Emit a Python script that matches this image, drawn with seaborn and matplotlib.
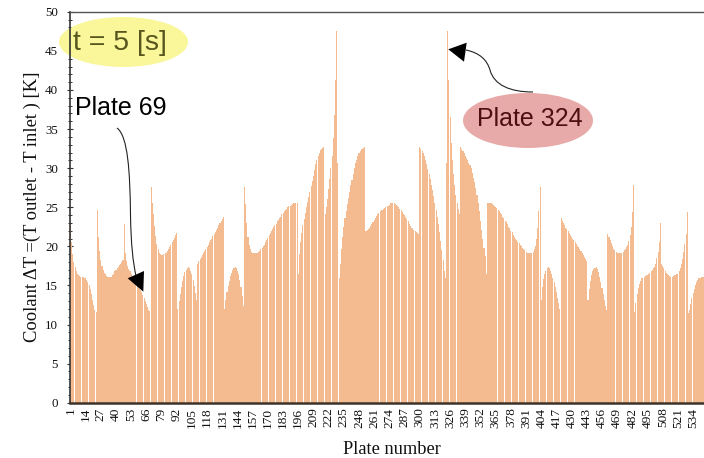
import numpy as np
import pandas as pd
import matplotlib
matplotlib.use("Agg")
import matplotlib.pyplot as plt
import matplotlib.transforms as mtransforms
from matplotlib.patches import Ellipse, PathPatch, Polygon
from matplotlib.path import Path
from matplotlib.ticker import MultipleLocator
import seaborn as sns

# ---- data: coolant delta T per plate ----
seg_a = [22.9, 20.5, 19.0, 18.0, 17.3, 16.8, 16.5, 16.3, 16.2, 16.1, 16.1, 16.1,
         16.0, 15.9, 15.7, 15.4, 15.0, 14.5, 13.9, 13.2, 12.5, 11.9, 11.6]
seg_b = [24.6, 21.2, 19.4, 18.2, 17.5, 17.0, 16.6, 16.4, 16.2, 16.1, 16.1, 16.1,
         16.1, 16.3, 16.5, 16.8, 17.0, 17.2, 17.4, 17.6, 17.8, 18.0, 18.2]
seg_c = [22.9, 19.1, 18.1, 17.5, 17.1, 16.8, 16.5, 16.2, 16.0, 15.7, 15.4, 15.1,
         14.8, 14.6, 14.4, 14.1, 13.8, 13.4, 13.0, 12.6, 12.2, 11.9, 11.7]
seg_d = [27.6, 25.5, 24.2, 22.6, 21.3, 20.3, 19.6, 19.2, 19.0, 18.9, 18.9, 19.0,
         19.1, 19.2, 19.4, 19.6, 19.9, 20.2, 20.5, 20.8, 21.1, 21.5, 21.7]
seg_e = [12.0, 13.0, 13.9, 14.8, 15.6, 16.2, 16.7, 17.0, 17.2, 17.3, 17.2, 16.9,
         16.4, 15.7, 14.9, 14.0, 13.1]
seg_f = [17.8, 18.1, 18.4, 18.6, 18.9, 19.2, 19.4, 19.7, 19.9, 20.2, 20.5, 20.8,
         21.0, 21.3, 21.6, 21.8, 22.1, 22.4, 22.7, 23.0, 23.3, 23.5, 23.8]
seg_g = [12.0, 13.1, 14.1, 14.9, 15.6, 16.2, 16.6, 17.0, 17.2, 17.3, 17.2, 16.9,
         16.4, 15.7, 14.8, 13.7, 12.4]
seg_h = [27.6, 25.4, 23.0, 21.2, 20.2, 19.6, 19.3, 19.2, 19.1, 19.1,
         19.1, 19.2, 19.3, 19.4, 19.6, 19.8, 20.0, 20.2, 20.5, 20.8,
         21.1, 21.4, 21.7, 22.0, 22.2, 22.5, 22.7, 22.9, 23.2, 23.4,
         23.6, 23.8, 24.1, 24.3, 24.5, 24.7, 24.8, 25.0, 25.1, 25.2,
         25.3, 25.4, 25.5, 25.5, 25.6, 25.6]
seg_i = [16.5, 19.0, 20.5, 21.7, 22.7, 23.5, 24.3, 25.0, 25.7, 26.3,
         27.0, 27.7, 28.3, 29.0, 29.8, 30.5, 31.1, 31.6, 32.0, 32.3,
         32.5, 32.6, 32.7]
seg_j = [24.2, 25.0, 26.1, 27.3, 28.6, 30.0, 31.5, 33.8, 36.8, 41.3, 47.6, 30.6, 16.0]
seg_k = [17.8, 19.6, 21.2, 22.5, 23.6, 24.5, 25.4, 26.2, 27.0, 27.8,
         28.5, 29.3, 30.0, 30.6, 31.1, 31.6, 32.0, 32.2, 32.4, 32.5,
         32.6, 32.7]
seg_l = [22.0, 22.1, 22.2, 22.4, 22.6, 22.9, 23.1, 23.4, 23.6, 23.9,
         24.1, 24.3, 24.5, 24.6, 24.7, 24.8, 24.9, 25.0, 25.1, 25.2,
         25.3, 25.5, 25.6, 25.6, 25.5, 25.4, 25.3, 25.1, 25.0, 24.8,
         24.6, 24.4, 24.2, 24.0, 23.8, 23.5, 23.2, 22.9, 22.6, 22.4,
         22.3, 22.1, 22.0, 21.8, 21.7, 21.6]
seg_m = [32.7, 32.5, 32.2, 31.9, 31.5, 31.0, 30.5, 29.9, 29.3, 28.6,
         27.9, 27.2, 26.4, 25.6, 24.7, 23.8, 22.8, 21.8, 20.7, 19.5,
         18.2, 16.8, 15.9]
seg_n = [30.6, 47.5, 41.3, 36.5, 33.2, 31.0, 29.2, 27.8, 26.6, 25.6, 24.8, 24.2]
seg_o = [32.7, 32.5, 32.2, 31.9, 31.6, 31.3, 31.0, 30.7, 30.4, 30.0,
         29.4, 28.8, 28.2, 27.5, 26.6, 25.6, 24.5, 23.3, 22.1, 20.9,
         19.8, 18.8, 16.5]
seg_p = [25.6, 25.6, 25.5, 25.5, 25.4, 25.3, 25.2, 25.0, 24.9, 24.7,
         24.5, 24.3, 24.1, 23.8, 23.6, 23.3, 23.1, 22.8, 22.5, 22.3,
         22.0, 21.8, 21.5, 21.2, 21.0, 20.8, 20.6, 20.4, 20.2, 20.0,
         19.8, 19.6, 19.5, 19.3, 19.2, 19.1, 19.1, 19.1, 19.2, 19.3,
         19.6, 20.1, 20.9, 22.3, 24.5, 27.6]
seg_q = [13.1, 14.8, 15.8, 16.5, 16.9, 17.2, 17.3, 17.2, 16.9, 16.5, 16.0, 15.4,
         14.8, 14.1, 13.4, 12.7, 12.0]
seg_r = [23.6, 23.3, 23.0, 22.7, 22.4, 22.2, 21.9, 21.7, 21.4, 21.2,
         21.0, 20.8, 20.5, 20.3, 20.1, 19.9, 19.6, 19.4, 19.1, 18.9,
         18.6, 18.4, 18.1]
seg_s = [13.1, 14.6, 15.6, 16.3, 16.8, 17.1, 17.2, 17.3, 17.1, 16.7, 16.1, 15.4,
         14.7, 13.9, 13.1, 12.4, 11.9]
seg_t = [21.6, 21.2, 20.8, 20.4, 20.0, 19.7, 19.5, 19.3, 19.2, 19.1,
         19.1, 19.1, 19.2, 19.3, 19.5, 19.7, 19.9, 20.2, 20.7, 21.4,
         22.5, 24.4, 27.8]
seg_u = [11.6, 12.8, 13.9, 14.7, 15.2, 15.6, 15.9, 16.0, 16.1, 16.2,
         16.3, 16.3, 16.4, 16.6, 16.8, 17.0, 17.2, 17.4, 17.8, 18.5,
         19.3, 20.5, 23.0]
seg_v = [17.8, 17.5, 17.2, 16.9, 16.6, 16.4, 16.3, 16.2, 16.1, 16.1,
         16.2, 16.3, 16.3, 16.4, 16.5, 16.8, 17.2, 17.7, 18.4, 19.3,
         20.3, 21.6, 24.4]
seg_w = [11.5, 11.9, 12.6, 13.4, 14.0, 14.6, 15.0, 15.4, 15.7, 15.9, 16.0, 16.1,
         16.1, 16.1]

delta_t = (seg_a + seg_b + seg_c + seg_d + seg_e + seg_f + seg_g + seg_h + seg_i
           + seg_j + seg_k + seg_l + seg_m + seg_n + seg_o + seg_p + seg_q + seg_r
           + seg_s + seg_t + seg_u + seg_v + seg_w)
plates = list(range(1, len(delta_t) + 1))
tick_plates = list(range(1, 535, 13))
tick_labels = [str(t) for t in tick_plates]
y_ticks = list(range(0, 51, 5))

x_label = "Plate number"
y_label = "Coolant \u0394T =(T outlet - T inlet ) [K]"
time_label = "t = 5 [s]"
note_a = "Plate 69"
note_b = "Plate 324"

# ---- style ----
sns.set_style("ticks")
plt.rcParams["font.family"] = ["Liberation Serif", "DejaVu Serif"]

bar_color = "#F4BA90"

fig = plt.figure(figsize=(7.04, 4.58), dpi=100)
W, H = 704.0, 458.0
ax = fig.add_axes([69.85 / W, (H - 402.7) / H, 644.9 / W, 390.9 / H])

df = pd.DataFrame({"plate": plates, "dT": delta_t})
sns.barplot(data=df, x="plate", y="dT", native_scale=True, width=0.9,
            color=bar_color, saturation=1, errorbar=None, linewidth=0, ax=ax)

ax.set_xlim(0.5, 552.5)
ax.set_ylim(0, 50)
ax.set_xticks(tick_plates)
ax.set_xticklabels(tick_labels, rotation=90)
ax.set_yticks(y_ticks)
ax.yaxis.set_minor_locator(MultipleLocator(1))
ax.tick_params(axis="x", length=0, pad=3.5, labelsize=9.6, colors="#111111")
ax.tick_params(axis="y", which="major", direction="inout", length=4, width=0.8,
               pad=6.5, labelsize=9.4, color="#333333", labelcolor="#111111")
ax.tick_params(axis="y", which="minor", direction="inout", length=3, width=0.7,
               color="#333333")

ax.set_xlabel(x_label, fontsize=13.2, labelpad=9.5, color="#111111")
ax.set_ylabel(y_label, fontsize=13.4, labelpad=3, color="#111111")

ax.spines["right"].set_visible(False)
ax.spines["top"].set_color("#555555")
ax.spines["top"].set_linewidth(1.0)
ax.spines["left"].set_color("#333333")
ax.spines["left"].set_linewidth(1.2)
ax.spines["bottom"].set_color("#3D342B")
ax.spines["bottom"].set_linewidth(1.8)
ax.grid(False)

# ---- annotations (pixel coordinates, origin top-left) ----
pix = mtransforms.Affine2D().scale(1 / W, -1 / H).translate(0, 1) + fig.transFigure

ax.add_patch(Ellipse((123.5, 42), 129, 50, transform=pix, facecolor="#F9F79A",
                     edgecolor="none", clip_on=False, zorder=2))
ax.text(73, 50, time_label, transform=pix, fontsize=20.5, family="Liberation Sans",
        color="#57561E", ha="left", va="baseline", zorder=6, clip_on=False)

ax.text(75, 115, note_a, transform=pix, fontsize=18, family="Liberation Sans",
        color="black", ha="left", va="baseline", zorder=6, clip_on=False)
path69 = Path([(117, 128), (128, 136), (130, 172), (130.5, 215),
               (131, 245), (133, 262), (136, 276)],
              [Path.MOVETO, Path.CURVE4, Path.CURVE4, Path.CURVE4,
               Path.CURVE4, Path.CURVE4, Path.CURVE4])
ax.add_patch(PathPatch(path69, transform=pix, fill=False, edgecolor="#222222",
                       linewidth=0.8, clip_on=False, zorder=6))
ax.add_patch(Polygon([(127.7, 278.3), (144, 271), (143.3, 291.7)], closed=True,
                     transform=pix, facecolor="black", edgecolor="none",
                     clip_on=False, zorder=7))

ax.add_patch(Ellipse((528, 120.5), 130, 55, transform=pix, facecolor="#E8A9A9",
                     edgecolor="none", clip_on=False, zorder=6))
ax.text(477, 126, note_b, transform=pix, fontsize=18, family="Liberation Sans",
        color="#4D1010", ha="left", va="baseline", zorder=7, clip_on=False)
path324 = Path([(533, 92), (510, 92), (494, 85), (490, 70),
                (487, 60), (480, 53), (466, 50)],
               [Path.MOVETO, Path.CURVE4, Path.CURVE4, Path.CURVE4,
                Path.CURVE4, Path.CURVE4, Path.CURVE4])
ax.add_patch(PathPatch(path324, transform=pix, fill=False, edgecolor="#222222",
                       linewidth=0.8, clip_on=False, zorder=6))
ax.add_patch(Polygon([(448.3, 49.3), (466.7, 42.7), (464, 61.7)], closed=True,
                     transform=pix, facecolor="black", edgecolor="none",
                     clip_on=False, zorder=7))

fig.savefig("out.png", dpi=100)
